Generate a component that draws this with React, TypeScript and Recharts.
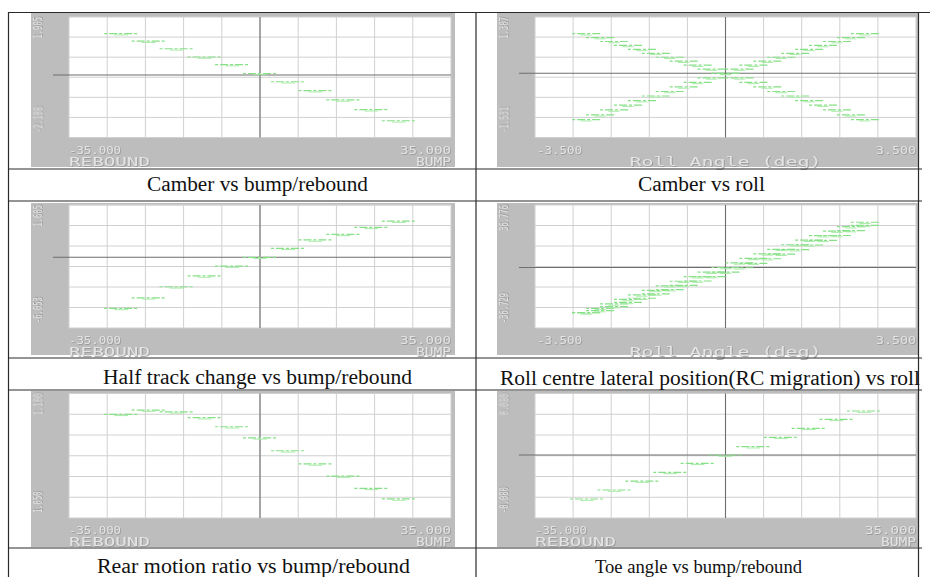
import React from 'react'
import { ScatterChart, Scatter, XAxis, YAxis, CartesianGrid, ReferenceLine } from 'recharts'

// step centres along the travel axis
const bumpTravel = [-31.8, -25.5, -19.1, -12.7, -6.4, 0, 6.4, 12.7, 19.1, 25.5, 31.8]
const rollAngle = [-3.2, -2.88, -2.56, -2.24, -1.92, -1.6, -1.28, -0.96, -0.64, -0.32, 0, 0.32, 0.64, 0.96, 1.28, 1.6, 1.92, 2.24, 2.56, 2.88, 3.2]

// series values
const camberBump = [1.905, 1.56, 1.21, 0.83, 0.48, 0.07, -0.31, -0.72, -1.15, -1.6, -2.108]
const camberRollL = [1.307, 1.18, 1.05, 0.92, 0.79, 0.66, 0.53, 0.4, 0.27, 0.14, 0.0, -0.15, -0.3, -0.45, -0.6, -0.75, -0.9, -1.05, -1.21, -1.37, -1.531]
const camberRollR = [-1.531, -1.37, -1.21, -1.05, -0.9, -0.75, -0.6, -0.45, -0.3, -0.15, 0.0, 0.14, 0.27, 0.4, 0.53, 0.66, 0.79, 0.92, 1.05, 1.18, 1.307]
const halfTrack = [-2.27, -1.8, -1.31, -0.83, -0.39, 0, 0.4, 0.77, 1.02, 1.33, 1.605]
const rcUpper = [-36.729, -33.2, -29.6, -26.0, -22.3, -18.6, -14.9, -11.2, -7.5, -3.8, 0.0, 3.7, 7.4, 11.1, 14.8, 18.5, 22.2, 25.9, 29.6, 33.2, 36.776]
const rcLower = [-36.729, -35.0, -31.8, -28.4, -25.0, -21.5, -18.0, -14.5, -11.0, -7.4, -3.8, -0.2, 3.4, 7.1, 10.8, 14.5, 18.3, 22.1, 26.0, 30.0, 34.2]
const motionRatio = [1.0976, 1.1, 1.099, 1.0957, 1.0906, 1.0844, 1.0771, 1.0697, 1.0629, 1.056, 1.05]
const toeAngle = [-0.08, -0.0636, -0.0473, -0.0315, -0.0151, 0, 0.0151, 0.0322, 0.0485, 0.0649, 0.08]

// axis end labels
const bumpLabels = ['-35.000', '35.000', 'REBOUND', 'BUMP']
const rollLabels = ['-3.500', '3.500', 'Roll Angle (deg)']
const camberBumpY = ['1.905', '-2.108']
const camberRollY = ['1.307', '-1.531']
const halfTrackY = ['1.605', '-6.053']
const rcY = ['36.776', '-36.729']
const motionY = ['1.100', '1.050']
const toeY = ['0.080', '-0.080']

const captions = [
  'Camber vs bump/rebound',
  'Camber vs roll',
  'Half track change vs bump/rebound',
  'Roll centre lateral position(RC migration) vs roll',
  'Rear motion ratio vs bump/rebound',
  'Toe angle vs bump/rebound',
]

const GRAY = '#bdbdbd'
const GREEN = '#86e086'

const pts = (xs: number[], ys: number[]) => xs.map((x, i) => ({ x, y: ys[i] }))

const evenTicks = (d: [number, number], n: number) => {
  const out: number[] = []
  for (let i = 0; i <= n; i++) out.push(d[0] + ((d[1] - d[0]) * i) / n)
  return out
}

const stepMark = (w: number) => (props: any) => {
  const { cx, cy } = props
  if (cx == null || cy == null) return <g />
  return (
    <g>
      <line x1={cx - w / 2} x2={cx + w / 2} y1={cy} y2={cy} stroke={GREEN} strokeWidth={1.2} strokeDasharray="3 2 8 2" />
      <line x1={cx - w / 5} x2={cx + w / 5} y1={cy + 1.3} y2={cy + 1.3} stroke="#a9eba9" strokeWidth={1} />
    </g>
  )
}

type Panel = {
  left: number
  top: number
  width: number
  height: number
  m: { top: number; right: number; bottom: number; left: number }
  xDomain: [number, number]
  yDomain: [number, number]
  series: { x: number; y: number }[][]
  yLabels: string[]
  roll: boolean
  segW: number
}

const LEFT = { left: 31, width: 424, ml: 38, mr: 4 }
const RIGHT = { left: 497, width: 421, ml: 38, mr: 2 }
const ROWS = [
  { top: 13, height: 154, mt: 4, mb: 29.5 },
  { top: 203, height: 152, mt: 2, mb: 27 },
  { top: 391, height: 156, mt: 2.5, mb: 29 },
]

const mk = (col: typeof LEFT, row: typeof ROWS[0]) => ({
  left: col.left,
  top: row.top,
  width: col.width,
  height: row.height,
  m: { top: row.mt, right: col.mr, bottom: row.mb, left: col.ml },
})

const panels: Panel[] = [
  { ...mk(LEFT, ROWS[0]), xDomain: [-43.75, 43.75], yDomain: [-2.88, 2.673], series: [pts(bumpTravel, camberBump)], yLabels: camberBumpY, roll: false, segW: 34 },
  { ...mk(RIGHT, ROWS[0]), xDomain: [-4.375, 4.375], yDomain: [-2.119, 1.858], series: [pts(rollAngle, camberRollL), pts(rollAngle, camberRollR)], yLabels: camberRollY, roll: true, segW: 28 },
  { ...mk(LEFT, ROWS[1]), xDomain: [-43.75, 43.75], yDomain: [-3.142, 2.324], series: [pts(bumpTravel, halfTrack)], yLabels: halfTrackY, roll: false, segW: 34 },
  { ...mk(RIGHT, ROWS[1]), xDomain: [-4.375, 4.375], yDomain: [-49.2, 50.8], series: [pts(rollAngle, rcUpper), pts(rollAngle, rcLower)], yLabels: rcY, roll: true, segW: 28 },
  { ...mk(LEFT, ROWS[2]), xDomain: [-43.75, 43.75], yDomain: [1.0393, 1.1093], series: [pts(bumpTravel, motionRatio)], yLabels: motionY, roll: false, segW: 34 },
  { ...mk(RIGHT, ROWS[2]), xDomain: [-43.75, 43.75], yDomain: [-0.1145, 0.1118], series: [pts(bumpTravel, toeAngle)], yLabels: toeY, roll: false, segW: 34 },
]

function PlotPanel({ p }: { p: Panel }) {
  const xt = evenTicks(p.xDomain, 10)
  const yt = evenTicks(p.yDomain, 6)
  const hasZero = p.yDomain[0] < 0 && p.yDomain[1] > 0
  const ext = ((p.xDomain[1] - p.xDomain[0]) * 16) / (p.width - p.m.left - p.m.right)
  return (
    <div style={{ position: 'absolute', left: p.left, top: p.top, width: p.width, height: p.height, background: GRAY }}>
      <ScatterChart width={p.width} height={p.height} margin={p.m}>
        <CartesianGrid stroke="#d0d0d0" fill="#ffffff" />
        <XAxis type="number" dataKey="x" domain={p.xDomain} ticks={xt} tickFormatter={() => ''} height={0} axisLine={false} tickSize={5} tickLine={{ stroke: '#7d7d7d' }} allowDataOverflow />
        <YAxis type="number" dataKey="y" domain={p.yDomain} ticks={yt} tickFormatter={() => ''} width={0} axisLine={false} tickSize={5} tickLine={{ stroke: '#7d7d7d' }} allowDataOverflow />
        {hasZero && (
          <ReferenceLine segment={[{ x: p.xDomain[0] - ext, y: 0 }, { x: p.xDomain[1], y: 0 }]} stroke="#6e6e6e" strokeWidth={1.1} ifOverflow="visible" />
        )}
        <ReferenceLine x={0} stroke="#6e6e6e" strokeWidth={1.1} />
        {p.series.map((s, i) => (
          <Scatter key={i} data={s} shape={stepMark(p.segW)} isAnimationActive={false} />
        ))}
      </ScatterChart>
    </div>
  )
}

// light lettering on the grey frame, darker offset edge via a filter
const Emboss = ({ x, y, text, anchor = 'start', len, size, rot = false }: any) => (
  <text
    x={x}
    y={y}
    transform={rot ? `rotate(-90 ${x} ${y})` : undefined}
    fill="#e4e4e4"
    filter="url(#emboss)"
    fontFamily="DejaVu Sans Mono, monospace"
    fontSize={size}
    textAnchor={anchor}
    textLength={len}
    lengthAdjust="spacingAndGlyphs"
  >
    {text}
  </text>
)

function AxisText({ p }: { p: Panel }) {
  const pl = p.left + p.m.left
  const pr = p.left + p.width - p.m.right
  const pt = p.top + p.m.top
  const pb = p.top + p.height - p.m.bottom
  const yx = p.left + 11
  const ylen = (s: string) => s.length * 4.3
  return (
    <g>
      <Emboss x={yx} y={pt} text={p.yLabels[0]} anchor="end" len={ylen(p.yLabels[0])} size={13} rot />
      <Emboss x={yx} y={pb - 5} text={p.yLabels[1]} anchor="start" len={ylen(p.yLabels[1])} size={13} rot />
      {p.roll ? (
        <>
          <Emboss x={pl + 2} y={pb + 16} text={rollLabels[0]} len={45} size={10} />
          <Emboss x={pr} y={pb + 16} text={rollLabels[1]} anchor="end" len={40} size={10} />
          <Emboss x={(pl + pr) / 2} y={pb + 28} text={rollLabels[2]} anchor="middle" len={192} size={12} />
        </>
      ) : (
        <>
          <Emboss x={pl} y={pb + 16} text={bumpLabels[0]} len={52} size={10} />
          <Emboss x={pr} y={pb + 16} text={bumpLabels[1]} anchor="end" len={51} size={10} />
          <Emboss x={pl} y={pb + 28} text={bumpLabels[2]} len={81} size={12} />
          <Emboss x={pr} y={pb + 28} text={bumpLabels[3]} anchor="end" len={35} size={12} />
        </>
      )}
    </g>
  )
}

// caption placement: [centre x, baseline y, width]
const captionPos = [
  [257.5, 191, 221],
  [701.5, 191, 127],
  [257.5, 384, 309],
  [710, 385, 420],
  [253.5, 572.5, 313],
  [698.5, 572.5, 207],
]

export default function App() {
  const H = [12.5, 169, 201, 358, 390, 548]
  return (
    <div style={{ position: 'absolute', left: 0, top: 0, width: 930, height: 577, background: '#fff', overflow: 'hidden' }}>
      {panels.map((p, i) => (
        <PlotPanel key={i} p={p} />
      ))}
      <svg width={930} height={577} style={{ position: 'absolute', left: 0, top: 0, pointerEvents: 'none' }}>
        <defs>
          <filter id="emboss" x="-10%" y="-30%" width="130%" height="160%">
            <feDropShadow dx="0.8" dy="0.8" stdDeviation="0" floodColor="#949494" />
          </filter>
        </defs>
        {panels.map((p, i) => (
          <AxisText key={i} p={p} />
        ))}
        {H.map((y, i) => (
          <line key={i} x1={8} x2={i === 0 ? 930 : 922} y1={y} y2={y} stroke="#2a2a2a" strokeWidth={1.2} />
        ))}
        <line x1={8.5} x2={8.5} y1={12} y2={577} stroke="#2a2a2a" strokeWidth={1.2} />
        <line x1={476} x2={476} y1={12} y2={577} stroke="#2a2a2a" strokeWidth={1.2} />
        <line x1={918.5} x2={918.5} y1={12} y2={577} stroke="#2a2a2a" strokeWidth={1.2} />
        {captions.map((c, i) => (
          <text
            key={i}
            x={captionPos[i][0]}
            y={captionPos[i][1]}
            textAnchor="middle"
            textLength={captionPos[i][2]}
            lengthAdjust="spacingAndGlyphs"
            fontFamily="Liberation Serif, Times New Roman, serif"
            fontSize={i === 5 ? 19 : 20}
            fill="#111"
          >
            {c}
          </text>
        ))}
      </svg>
    </div>
  )
}
